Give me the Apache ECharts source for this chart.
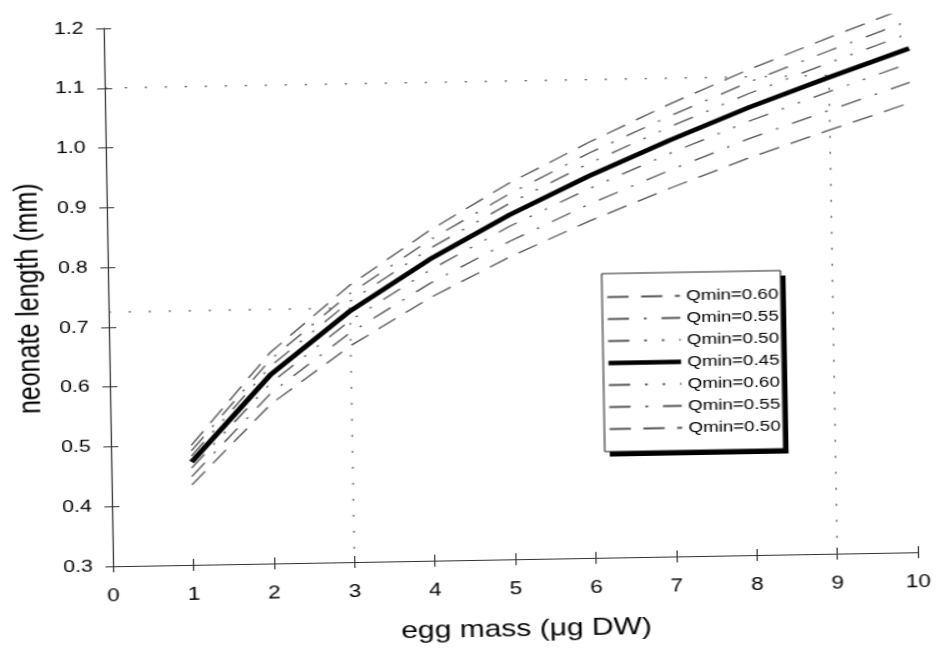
<!DOCTYPE html>
<html>
<head>
<meta charset="utf-8">
<script src="https://cdn.jsdelivr.net/npm/echarts@6/dist/echarts.min.js"></script>
<style>
  html, body { margin: 0; padding: 0; background: #fff; overflow: hidden; }
  /* the scanned figure is a bit wide and tilted, so the chart is stretched and turned */
  #main {
    position: absolute; left: 94px; top: 0;
    width: 752px; height: 648px;
    transform: rotate(-1deg) scaleX(1.25);
  }
</style>
</head>
<body>
<div id="main"></div>
<script>
// egg mass (x)
const eggMass = [1, 2, 3, 4, 5, 6, 7, 8, 9, 10];
// neonate length for each curve, top to bottom
const upper060 = [0.500, 0.653, 0.763, 0.852, 0.929, 0.995, 1.056, 1.112, 1.163, 1.212];
const upper055 = [0.491, 0.641, 0.749, 0.836, 0.911, 0.977, 1.036, 1.091, 1.141, 1.189];
const upper050 = [0.482, 0.630, 0.736, 0.822, 0.895, 0.960, 1.018, 1.072, 1.121, 1.168];
const main045  = [0.472, 0.616, 0.720, 0.804, 0.876, 0.939, 0.996, 1.049, 1.097, 1.143];
const lower060 = [0.462, 0.602, 0.704, 0.786, 0.857, 0.918, 0.974, 1.026, 1.073, 1.118];
const lower055 = [0.448, 0.585, 0.684, 0.764, 0.832, 0.892, 0.946, 0.997, 1.042, 1.086];
const lower050 = [0.434, 0.567, 0.662, 0.740, 0.806, 0.864, 0.916, 0.965, 1.009, 1.052];
const legendLabels = ['Qmin=0.60', 'Qmin=0.55', 'Qmin=0.50', 'Qmin=0.45', 'Qmin=0.60', 'Qmin=0.55', 'Qmin=0.50'];
// dotted guide lines (read-off examples)
const guide9 = [[0, 1.1], [9, 1.1], [9, 0.3]];
const guide3 = [[0, 0.725], [3, 0.725], [3, 0.3]];

const chart = echarts.init(document.getElementById('main'));

const longDash = [17, 10];
const dashDot = [17, 12, 2, 12];
const dashDotDot = [17, 12, 2, 12, 2, 12];

const curves = [
  { id: 'c1', data: upper060, dash: longDash },
  { id: 'c2', data: upper055, dash: dashDot },
  { id: 'c3', data: upper050, dash: dashDotDot },
  { id: 'c5', data: lower060, dash: dashDotDot },
  { id: 'c6', data: lower055, dash: dashDot },
  { id: 'c7', data: lower050, dash: longDash }
];
const labelOf = { c1: legendLabels[0], c2: legendLabels[1], c3: legendLabels[2], c4: legendLabels[3],
  c5: legendLabels[4], c6: legendLabels[5], c7: legendLabels[6] };

const guideStyle = { color: '#444', width: 1, type: [2, 14] };

const series = [
  { name: 'g9', type: 'line', data: guide9, symbol: 'none', silent: true, lineStyle: guideStyle },
  { name: 'g3', type: 'line', data: guide3, symbol: 'none', silent: true, lineStyle: guideStyle }
];
curves.forEach(c => {
  series.push({
    name: c.id, type: 'line', symbol: 'none',
    data: eggMass.map((x, i) => [x, c.data[i]]),
    lineStyle: { color: '#555', width: 1.3, type: c.dash }
  });
});
series.push({
  name: 'c4', type: 'line', symbol: 'none',
  data: eggMass.map((x, i) => [x, main045[i]]),
  lineStyle: { color: '#000', width: 4.5 }
});

// legend frame with its solid drop shadow
const box = { x: 482, y: 276, w: 143, h: 178 };

const axisColor = '#333';
const option = {
  animation: false,
  textStyle: { fontFamily: 'Liberation Sans' },
  grid: { left: 87, right: 21, top: 22, bottom: 88 },
  graphic: [
    { type: 'rect', z: 3, shape: { x: box.x + 4, y: box.y + 5, width: box.w, height: box.h }, style: { fill: '#000' } },
    { type: 'rect', z: 3, shape: { x: box.x, y: box.y, width: box.w, height: box.h }, style: { fill: '#fff', stroke: '#222', lineWidth: 1 } }
  ],
  xAxis: [
    {
      type: 'value', min: 0, max: 10, interval: 1,
      name: 'egg mass (μg DW)', nameLocation: 'middle', nameGap: 58,
      nameTextStyle: { fontSize: 24, color: '#000', padding: [0, 0, 0, 16] },
      axisLine: { show: true, onZero: false, lineStyle: { color: axisColor } },
      axisTick: { show: true, length: 6, lineStyle: { color: axisColor } },
      axisLabel: { fontSize: 18, color: '#000', margin: 21 },
      splitLine: { show: false }
    },
    {
      // inner half of the ticks, so they cross the axis line
      type: 'value', min: 0, max: 10, interval: 1, position: 'bottom',
      axisLine: { show: false },
      axisTick: { show: true, inside: true, length: 6, lineStyle: { color: axisColor } },
      axisLabel: { show: false },
      splitLine: { show: false }
    }
  ],
  yAxis: [
    {
      type: 'value', min: 0.3, max: 1.2, interval: 0.1,
      name: 'neonate length (mm)', nameLocation: 'middle', nameGap: 50,
      nameTextStyle: { fontSize: 25, color: '#000' },
      axisLine: { show: true, onZero: false, lineStyle: { color: axisColor } },
      axisTick: { show: true, length: 6, lineStyle: { color: axisColor } },
      axisLabel: { fontSize: 17, color: '#000', margin: 16, formatter: v => v.toFixed(1) },
      splitLine: { show: false }
    },
    {
      type: 'value', min: 0.3, max: 1.2, interval: 0.1, position: 'left',
      axisLine: { show: false },
      axisTick: { show: true, inside: true, length: 6, lineStyle: { color: axisColor } },
      axisLabel: { show: false },
      splitLine: { show: false }
    }
  ],
  legend: {
    orient: 'vertical', left: box.x, top: box.y + 12, z: 5,
    data: ['c1', 'c2', 'c3', { name: 'c4', lineStyle: { width: 4.5, color: '#000' } }, 'c5', 'c6', 'c7'],
    formatter: n => labelOf[n],
    selectedMode: false,
    itemWidth: 58, itemHeight: 14, itemGap: 7,
    padding: [4, 5, 4, 2],
    itemStyle: { opacity: 0 },
    textStyle: { fontSize: 15, color: '#000', lineHeight: 14 }
  },
  series: series
};

chart.setOption(option);
</script>
</body>
</html>
